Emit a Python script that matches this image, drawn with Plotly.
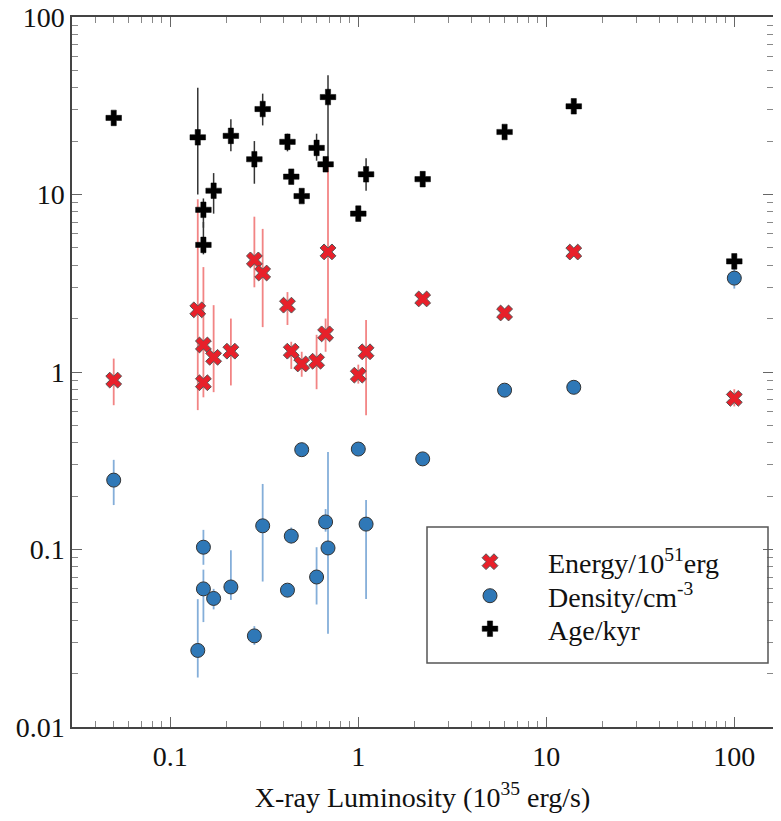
import plotly.graph_objects as go
import numpy as np

# ---- Age / kyr (black)
age_x = [0.05, 0.14, 0.15, 0.15, 0.17, 0.21, 0.28, 0.31, 0.42, 0.44, 0.5, 0.6, 0.67, 0.69, 1.1, 1.0, 2.2, 6.0, 14.0, 100.0]
age_y = [27.0, 21.0, 8.2, 5.2, 10.5, 21.4, 15.8, 30.3, 19.8, 12.6, 9.8, 18.3, 14.8, 35.4, 13.0, 7.8, 12.2, 22.5, 31.4, 4.2]
age_hi = [27.0, 40.0, 9.5, 7.0, 13.2, 26.5, 20.0, 37.0, 22.0, 13.5, 9.8, 22.0, 14.8, 47.0, 16.0, 7.8, 12.2, 22.5, 31.4, 4.6]
age_lo = [27.0, 10.0, 6.5, 4.6, 7.8, 17.5, 11.5, 24.5, 17.5, 11.5, 9.8, 15.5, 14.8, 15.0, 10.5, 7.8, 12.2, 22.5, 31.4, 3.9]

# ---- Energy / 1e51 erg (red)
en_x = [0.05, 0.14, 0.15, 0.15, 0.17, 0.21, 0.28, 0.31, 0.42, 0.44, 0.5, 0.6, 0.67, 0.69, 1.0, 1.1, 2.2, 6.0, 14.0, 100.0]
en_y = [0.90, 2.24, 1.42, 0.87, 1.21, 1.31, 4.28, 3.61, 2.38, 1.31, 1.11, 1.15, 1.64, 4.75, 0.96, 1.30, 2.58, 2.15, 4.74, 0.71]
en_hi = [1.19, 9.4, 3.9, 1.0, 2.38, 2.0, 7.5, 6.4, 2.82, 1.48, 1.30, 1.62, 2.0, 16.1, 1.10, 1.96, 2.58, 2.15, 4.74, 0.80]
en_lo = [0.65, 0.61, 1.0, 0.72, 0.77, 0.84, 3.0, 1.79, 1.84, 1.04, 0.94, 0.80, 1.30, 1.68, 0.86, 0.57, 2.58, 2.15, 4.74, 0.64]

# ---- Density / cm^-3 (blue)
de_x = [0.05, 0.14, 0.15, 0.15, 0.17, 0.21, 0.28, 0.31, 0.42, 0.44, 0.5, 0.6, 0.67, 0.69, 1.0, 1.1, 2.2, 6.0, 14.0, 100.0]
de_y = [0.246, 0.027, 0.103, 0.060, 0.053, 0.0615, 0.0326, 0.136, 0.059, 0.119, 0.365, 0.070, 0.143, 0.102, 0.368, 0.139, 0.324, 0.79, 0.82, 3.38]
de_hi = [0.32, 0.0525, 0.129, 0.077, 0.060, 0.099, 0.037, 0.234, 0.062, 0.133, 0.40, 0.103, 0.169, 0.354, 0.368, 0.19, 0.324, 0.79, 0.82, 3.8]
de_lo = [0.178, 0.019, 0.082, 0.039, 0.046, 0.052, 0.029, 0.066, 0.056, 0.108, 0.365, 0.049, 0.126, 0.0335, 0.368, 0.0527, 0.324, 0.79, 0.82, 2.95]

x_tickvals = [0.1, 1, 10, 100]
x_ticktext = ["0.1", "1", "10", "100"]
y_tickvals = [0.01, 0.1, 1, 10, 100]
y_ticktext = ["0.01", "0.1", "1", "10", "100"]
minor_mult = [2, 3, 4, 5, 6, 7, 8, 9]
decades = [0.01, 0.1, 1, 10, 100]
minor_vals = [m * d for d in decades for m in minor_mult]

FONT = "Liberation Serif, Times New Roman, serif"


def errs(y, hi, lo):
    y = np.array(y)
    return (np.array(hi) - y).clip(min=0), (y - np.array(lo)).clip(min=0)


fig = go.Figure()

eu, ed = errs(en_y, en_hi, en_lo)
fig.add_trace(go.Scatter(
    x=en_x, y=en_y, mode="markers", name="Energy/10<sup>51</sup>erg", legend="legend",
    marker=dict(symbol="x", size=14, color="#e8202a", line=dict(color="#555555", width=1)),
    error_y=dict(type="data", symmetric=False, array=eu, arrayminus=ed,
                 color="rgba(240,110,110,0.85)", thickness=1.8, width=0),
))

du, dd = errs(de_y, de_hi, de_lo)
fig.add_trace(go.Scatter(
    x=de_x, y=de_y, mode="markers", name="Density/cm<sup>-3</sup>", legend="legend2",
    marker=dict(symbol="circle", size=14, color="#2f78b7", line=dict(color="#333333", width=1)),
    error_y=dict(type="data", symmetric=False, array=du, arrayminus=dd,
                 color="rgba(110,160,210,0.85)", thickness=1.8, width=0),
))

au, ad = errs(age_y, age_hi, age_lo)
fig.add_trace(go.Scatter(
    x=age_x, y=age_y, mode="markers", name="Age/kyr", legend="legend3",
    marker=dict(symbol="cross", size=13, color="#000000", line=dict(color="#000000", width=0.5)),
    error_y=dict(type="data", symmetric=False, array=au, arrayminus=ad,
                 color="#333333", thickness=1.5, width=0),
))

axis_common = dict(
    type="log", showgrid=False, zeroline=False, automargin=False,
    showline=True, linecolor="#444444", linewidth=1.5, mirror="ticks",
    ticks="inside", ticklen=10, tickwidth=1.2, tickcolor="#666666",
    ticklabeloverflow="allow",
    tickfont=dict(family=FONT, size=28, color="#111111"),
    minor=dict(tickmode="array", tickvals=minor_vals, ticks="inside", ticklen=6,
               tickwidth=1, tickcolor="#888888", showgrid=False),
)

# plot area: 701 px wide at 188 px/decade, 710 px tall at 177.5 px/decade
x_lo = np.log10(0.03)
x_hi = x_lo + 701 / 188

leg_x = (432 - 72) / 701
leg_common = dict(x=leg_x, xanchor="left", yanchor="middle",
                  bgcolor="rgba(0,0,0,0)", borderwidth=0,
                  font=dict(family=FONT, size=28, color="#111111"),
                  itemwidth=106, tracegroupgap=0)

fig.update_layout(
    width=765, height=805,
    margin=dict(l=64, r=0, t=9, b=86),
    paper_bgcolor="white", plot_bgcolor="white",
    font=dict(family=FONT, size=28, color="#111111"),
    xaxis=dict(axis_common, range=[x_lo, x_hi], ticklabelstandoff=4,
               tickmode="array", tickvals=x_tickvals, ticktext=x_ticktext,
               title=dict(text="X-ray Luminosity (10<sup>35</sup> erg/s)",
                          font=dict(family=FONT, size=28), standoff=22)),
    yaxis=dict(axis_common, range=[-2, 2], tickmode="array",
               tickvals=y_tickvals, ticktext=y_ticktext),
    showlegend=True,
    legend=dict(leg_common, y=0.2324),
    legend2=dict(leg_common, y=0.1845),
    legend3=dict(leg_common, y=0.138),
    shapes=[dict(type="rect", xref="paper", yref="paper",
                 x0=(427 - 72) / 701, x1=(768 - 72) / 701, y0=0.090, y1=0.2817,
                 line=dict(color="#555555", width=1.5), fillcolor="rgba(0,0,0,0)")],
)

fig.write_html("out.html")
